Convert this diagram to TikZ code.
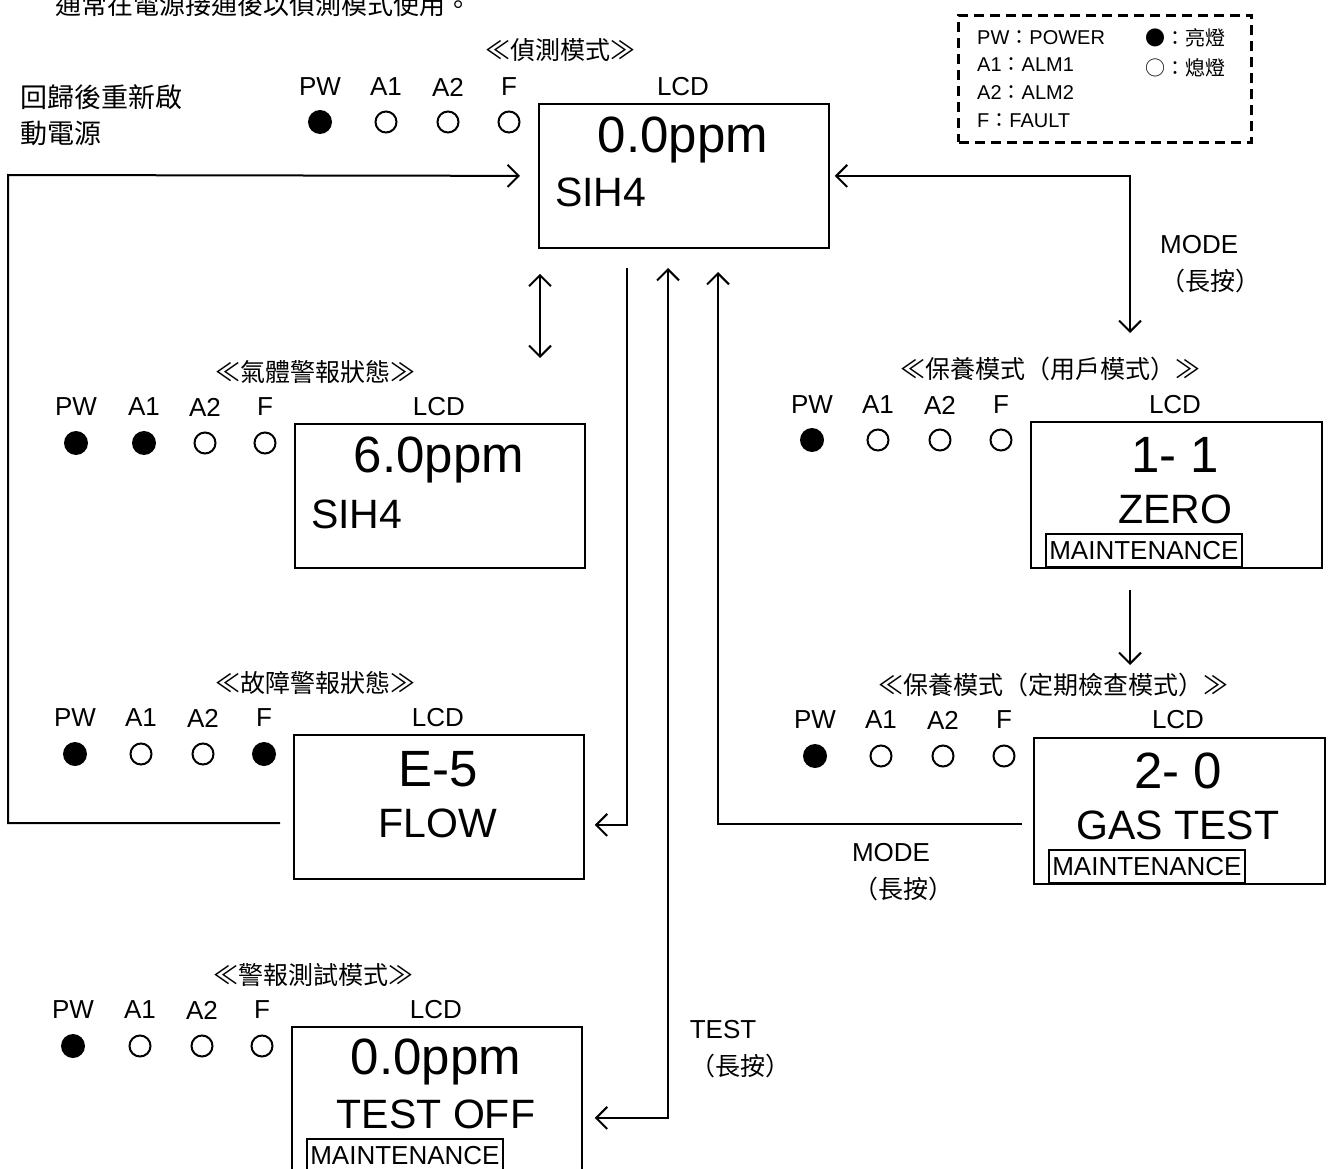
\documentclass[tikz,border=0pt]{standalone}
\usepackage{fontspec}
\setmainfont{Liberation Sans}
\newfontfamily\cjk{Noto Sans CJK TC}
\usetikzlibrary{arrows.meta}
\tikzset{lcd/.style={draw=black,line width=1.8pt,minimum width=290pt,minimum height=144pt,inner sep=0pt},
  tag/.style={draw=black,line width=1.8pt,minimum width=196pt,minimum height=33pt,inner sep=0pt,font=\fontsize{26}{26}\selectfont},
  lab/.style={inner sep=0pt,font=\fontsize{26}{26}\selectfont},
  head/.style={inner sep=0pt,font=\cjk\fontsize{25}{25}\selectfont},
  note/.style={inner sep=0pt,font=\cjk\fontsize{26}{26}\selectfont},
  big/.style={inner sep=0pt,font=\fontsize{51}{51}\selectfont},
  mid/.style={inner sep=0pt,font=\fontsize{41}{41}\selectfont},
  lit/.style={circle,fill=black,minimum size=24pt,inner sep=0pt},
  dark/.style={circle,draw=black,line width=2pt,minimum size=21pt,inner sep=0pt},
  legend/.style={draw=black,line width=3pt,dash pattern=on 10pt off 6pt,minimum width=293pt,minimum height=127pt,inner sep=0pt},
  keytxt/.style={inner sep=0pt,font=\fontsize{20}{20}\selectfont},
  link/.style={line width=2pt},
  >={Straight Barb[length=11pt,width=22pt]}}

\begin{document}
\begin{tikzpicture}[x=1pt,y=-1pt]
  \useasboundingbox (0,0) rectangle (1331,1169);
  \node[note,anchor=west] (intro) at (55,5) {通常在電源接通後以偵測模式使用。};
  \node[note,anchor=west,font=\cjk\fontsize{27}{27}\selectfont] (restartA) at (20,97) {回歸後重新啟};
  \node[note,anchor=west,font=\cjk\fontsize{27}{27}\selectfont] (restartB) at (20,133) {動電源};

  \node[legend,anchor=north west] (key) at (957,14) {};
  \node[keytxt,anchor=west] (keyPW) at (977,38) {PW{\cjk ：}POWER};
  \node[keytxt,anchor=west] (keyA1) at (977,65) {A1{\cjk ：}ALM1};
  \node[keytxt,anchor=west] (keyA2) at (977,93) {A2{\cjk ：}ALM2};
  \node[keytxt,anchor=west] (keyF) at (977,121) {F{\cjk ：}FAULT};
  \node[keytxt,anchor=west] (keyOn) at (1145,38) {\cjk ●：亮燈};
  \node[keytxt,anchor=west] (keyOff) at (1145,68) {\cjk ○：熄燈};

  \begin{scope}[shift={(538,103)}]
    \node[lcd,anchor=north west] (det) at (0,0) {};
    \node[head] (detHead) at (22,-53) {≪偵測模式≫};
    \node[lab] (detLCD) at (145,-16) {LCD};
    \foreach \n/\dx/\s in {PW/-218/lit,A1/-152/dark,A2/-90/dark,F/-29/dark}{
      \node[lab] (det\n) at (\dx,-16) {\n};
      \node[\s] (detled\n) at (\dx,19) {};
    }
    \node[big] (detVal) at (145,37) {0.0ppm};
    \node[mid,anchor=west] (detGas) at (17,89) {SIH4};
  \end{scope}

  \begin{scope}[shift={(294,423)}]
    \node[lcd,anchor=north west] (gas) at (0,0) {};
    \node[head] (gasHead) at (21,-51) {≪氣體警報狀態≫};
    \node[lab] (gasLCD) at (145,-16) {LCD};
    \foreach \n/\dx/\s in {PW/-218/lit,A1/-150/lit,A2/-89/dark,F/-29/dark}{
      \node[lab] (gas\n) at (\dx,-16) {\n};
      \node[\s] (gasled\n) at (\dx,20) {};
    }
    \node[big] (gasVal) at (145,37) {6.0ppm};
    \node[mid,anchor=west] (gasGas) at (17,91) {SIH4};
  \end{scope}

  \begin{scope}[shift={(293,734)}]
    \node[lcd,anchor=north west] (flt) at (0,0) {};
    \node[head] (fltHead) at (22,-51) {≪故障警報狀態≫};
    \node[lab] (fltLCD) at (145,-16) {LCD};
    \foreach \n/\dx/\s in {PW/-218/lit,A1/-152/dark,A2/-90/dark,F/-29/lit}{
      \node[lab] (flt\n) at (\dx,-16) {\n};
      \node[\s] (fltled\n) at (\dx,20) {};
    }
    \node[big] (fltVal) at (145,35) {E-5};
    \node[mid] (fltMsg) at (145,89) {FLOW};
  \end{scope}

  \begin{scope}[shift={(291,1026)}]
    \node[lcd,anchor=north west] (tst) at (0,0) {};
    \node[head] (tstHead) at (22,-51) {≪警報測試模式≫};
    \node[lab] (tstLCD) at (145,-16) {LCD};
    \foreach \n/\dx/\s in {PW/-218/lit,A1/-151/dark,A2/-89/dark,F/-29/dark}{
      \node[lab] (tst\n) at (\dx,-16) {\n};
      \node[\s] (tstled\n) at (\dx,20) {};
    }
    \node[big] (tstVal) at (145,36) {0.0ppm};
    \node[mid] (tstMsg) at (145,88) {TEST OFF};
    \node[tag,anchor=north west] (tstTag) at (15,112) {MAINTENANCE};
  \end{scope}

  \begin{scope}[shift={(1030,421)}]
    \node[lcd,anchor=north west,minimum width=291pt,minimum height=146pt] (usr) at (0,0) {};
    \node[head] (usrHead) at (20,-52) {≪保養模式（用戶模式）≫};
    \node[lab] (usrLCD) at (145,-16) {LCD};
    \foreach \n/\dx/\s in {PW/-218/lit,A1/-152/dark,A2/-90/dark,F/-29/dark}{
      \node[lab] (usr\n) at (\dx,-16) {\n};
      \node[\s] (usrled\n) at (\dx,19) {};
    }
    \node[big] (usrVal) at (145,34) {1- 1};
    \node[mid] (usrMsg) at (145,88) {ZERO};
    \node[tag,anchor=north west] (usrTag) at (15,112) {MAINTENANCE};
  \end{scope}

  \begin{scope}[shift={(1033,737)}]
    \node[lcd,anchor=north west,minimum width=291pt,minimum height=146pt] (chk) at (0,0) {};
    \node[head] (chkHead) at (20,-52) {≪保養模式（定期檢查模式）≫};
    \node[lab] (chkLCD) at (145,-17) {LCD};
    \foreach \n/\dx/\s in {PW/-218/lit,A1/-152/dark,A2/-90/dark,F/-29/dark}{
      \node[lab] (chk\n) at (\dx,-17) {\n};
      \node[\s] (chkled\n) at (\dx,19) {};
    }
    \node[big] (chkVal) at (145,34) {2- 0};
    \node[mid] (chkMsg) at (145,88) {GAS TEST};
    \node[tag,anchor=north west] (chkTag) at (15,112) {MAINTENANCE};
  \end{scope}

  \coordinate (retFrom) at (280,823);
  \coordinate (retCorner) at (8,175);
  \coordinate (fltFrom) at (627,268);
  \coordinate (tstFrom) at (668,268);
  \coordinate (chkTo) at (718,272);
  \coordinate (usrTo) at (1130,333);
  \coordinate (usrDown) at (1130,590);
  \coordinate (chkUp) at (1130,665);

  \draw[link,->,shorten >=18pt] (retFrom) -| (retCorner) -- (det.west);
  \draw[link,<->,shorten <=25pt,shorten >=65pt] ([xshift=2pt]det.south west) -- ([xshift=2pt]det.south west |- gas.north);
  \draw[link,->,shorten >=10pt] (fltFrom) |- ([yshift=-18pt]flt.east);
  \draw[link,<->,shorten >=12pt] (tstFrom) |- ([yshift=-19pt]tst.east);
  \draw[link,->] ([xshift=-11pt,yshift=-13pt]chk.west) -| (chkTo);
  \draw[link,<->,shorten <=5pt] (det.east) -| (usrTo);
  \draw[link,->] (usrDown) -- (chkUp);

  \node[lab,anchor=west] (modeA) at (1160,245) {MODE};
  \node[head] (holdA) at (1210,281) {（長按）};
  \node[lab] (modeB) at (891,853) {MODE};
  \node[head] (holdB) at (903,889) {（長按）};
  \node[lab] (testK) at (723,1030) {TEST};
  \node[head] (holdC) at (740,1066) {（長按）};
\end{tikzpicture}
\end{document}
